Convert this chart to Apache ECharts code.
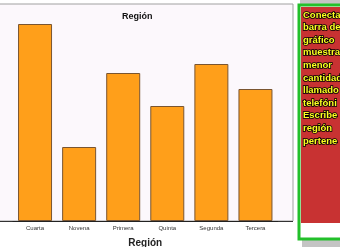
<!DOCTYPE html>
<html><head><meta charset="utf-8">
<script src="https://cdn.jsdelivr.net/npm/echarts@6/dist/echarts.min.js"></script>
<style>html,body{margin:0;padding:0;background:#fff}#c{width:340px;height:247px}</style>
</head><body><div id="c"></div>
<script>
const categories = ['Cuarta','Novena','Primera','Quinta','Segunda','Tercera'];
const values = [197, 74, 148, 115, 157, 132];
const panelLines = ['Conecta','barra de','gráfico','muestra','menor','cantidad','llamado','telefóni','Escribe','región','pertene'];

const chart = echarts.init(document.getElementById('c'), null, {renderer:'canvas'});
const graphics = [
  {type:'rect', z:-10, shape:{x:-2,y:4,width:295,height:217}, style:{fill:'#fcf8fc', stroke:'#a0a0a0', lineWidth:1}},
  {type:'line', z:-9, shape:{x1:0,y1:221.5,x2:293,y2:221.5}, style:{stroke:'#333', lineWidth:1}},
  {type:'rect', z:-10, shape:{x:300,y:0,width:40,height:4}, style:{fill:'#c4c4c4'}},
  {type:'rect', z:-10, shape:{x:302,y:240,width:38,height:7}, style:{fill:'#c4c4c4'}},
  {type:'rect', z:-9, shape:{x:299,y:5,width:44,height:234}, style:{fill:'#ffffff', stroke:'#22c02a', lineWidth:3}},
  {type:'rect', z:-8, shape:{x:301,y:7,width:40,height:216}, style:{fill:'#c83232'}}
];
panelLines.forEach((t,i)=>{
  graphics.push({type:'text', z:5, style:{text:t, x:303, y:10+i*12.6, fill:'#ffff22', stroke:'#000', lineWidth:1.6,
    font:'bold 9.5px "Liberation Sans", Arial, sans-serif', textVerticalAlign:'top'}});
});
chart.setOption({
  animation:false,
  title:{text:'Región', left:117, top:7, textStyle:{fontSize:9, fontWeight:'bold', color:'#111', fontFamily:'"Liberation Sans", Arial, sans-serif'}},
  grid:{left:13, right:62.5, top:4, bottom:26, containLabel:false, outerBoundsMode:'none'},
  xAxis:{type:'category', data:categories, name:'Región', nameLocation:'middle', nameGap:17,
    nameTextStyle:{fontSize:10, fontWeight:'bold', color:'#222', fontFamily:'"Liberation Sans", Arial, sans-serif'},
    axisLine:{lineStyle:{color:'#222', width:1}},
    axisTick:{alignWithLabel:true, length:3, lineStyle:{color:'#333'}},
    axisLabel:{fontSize:6, color:'#333', margin:4, fontFamily:'"Liberation Sans", Arial, sans-serif'}},
  yAxis:{type:'value', min:0, max:217, show:false, splitLine:{show:false}},
  series:[{type:'bar', data:values, barWidth:34, itemStyle:{color:'#ff9f1a', borderColor:'#7a5530', borderWidth:1}}],
  graphic:graphics
});
</script></body></html>
